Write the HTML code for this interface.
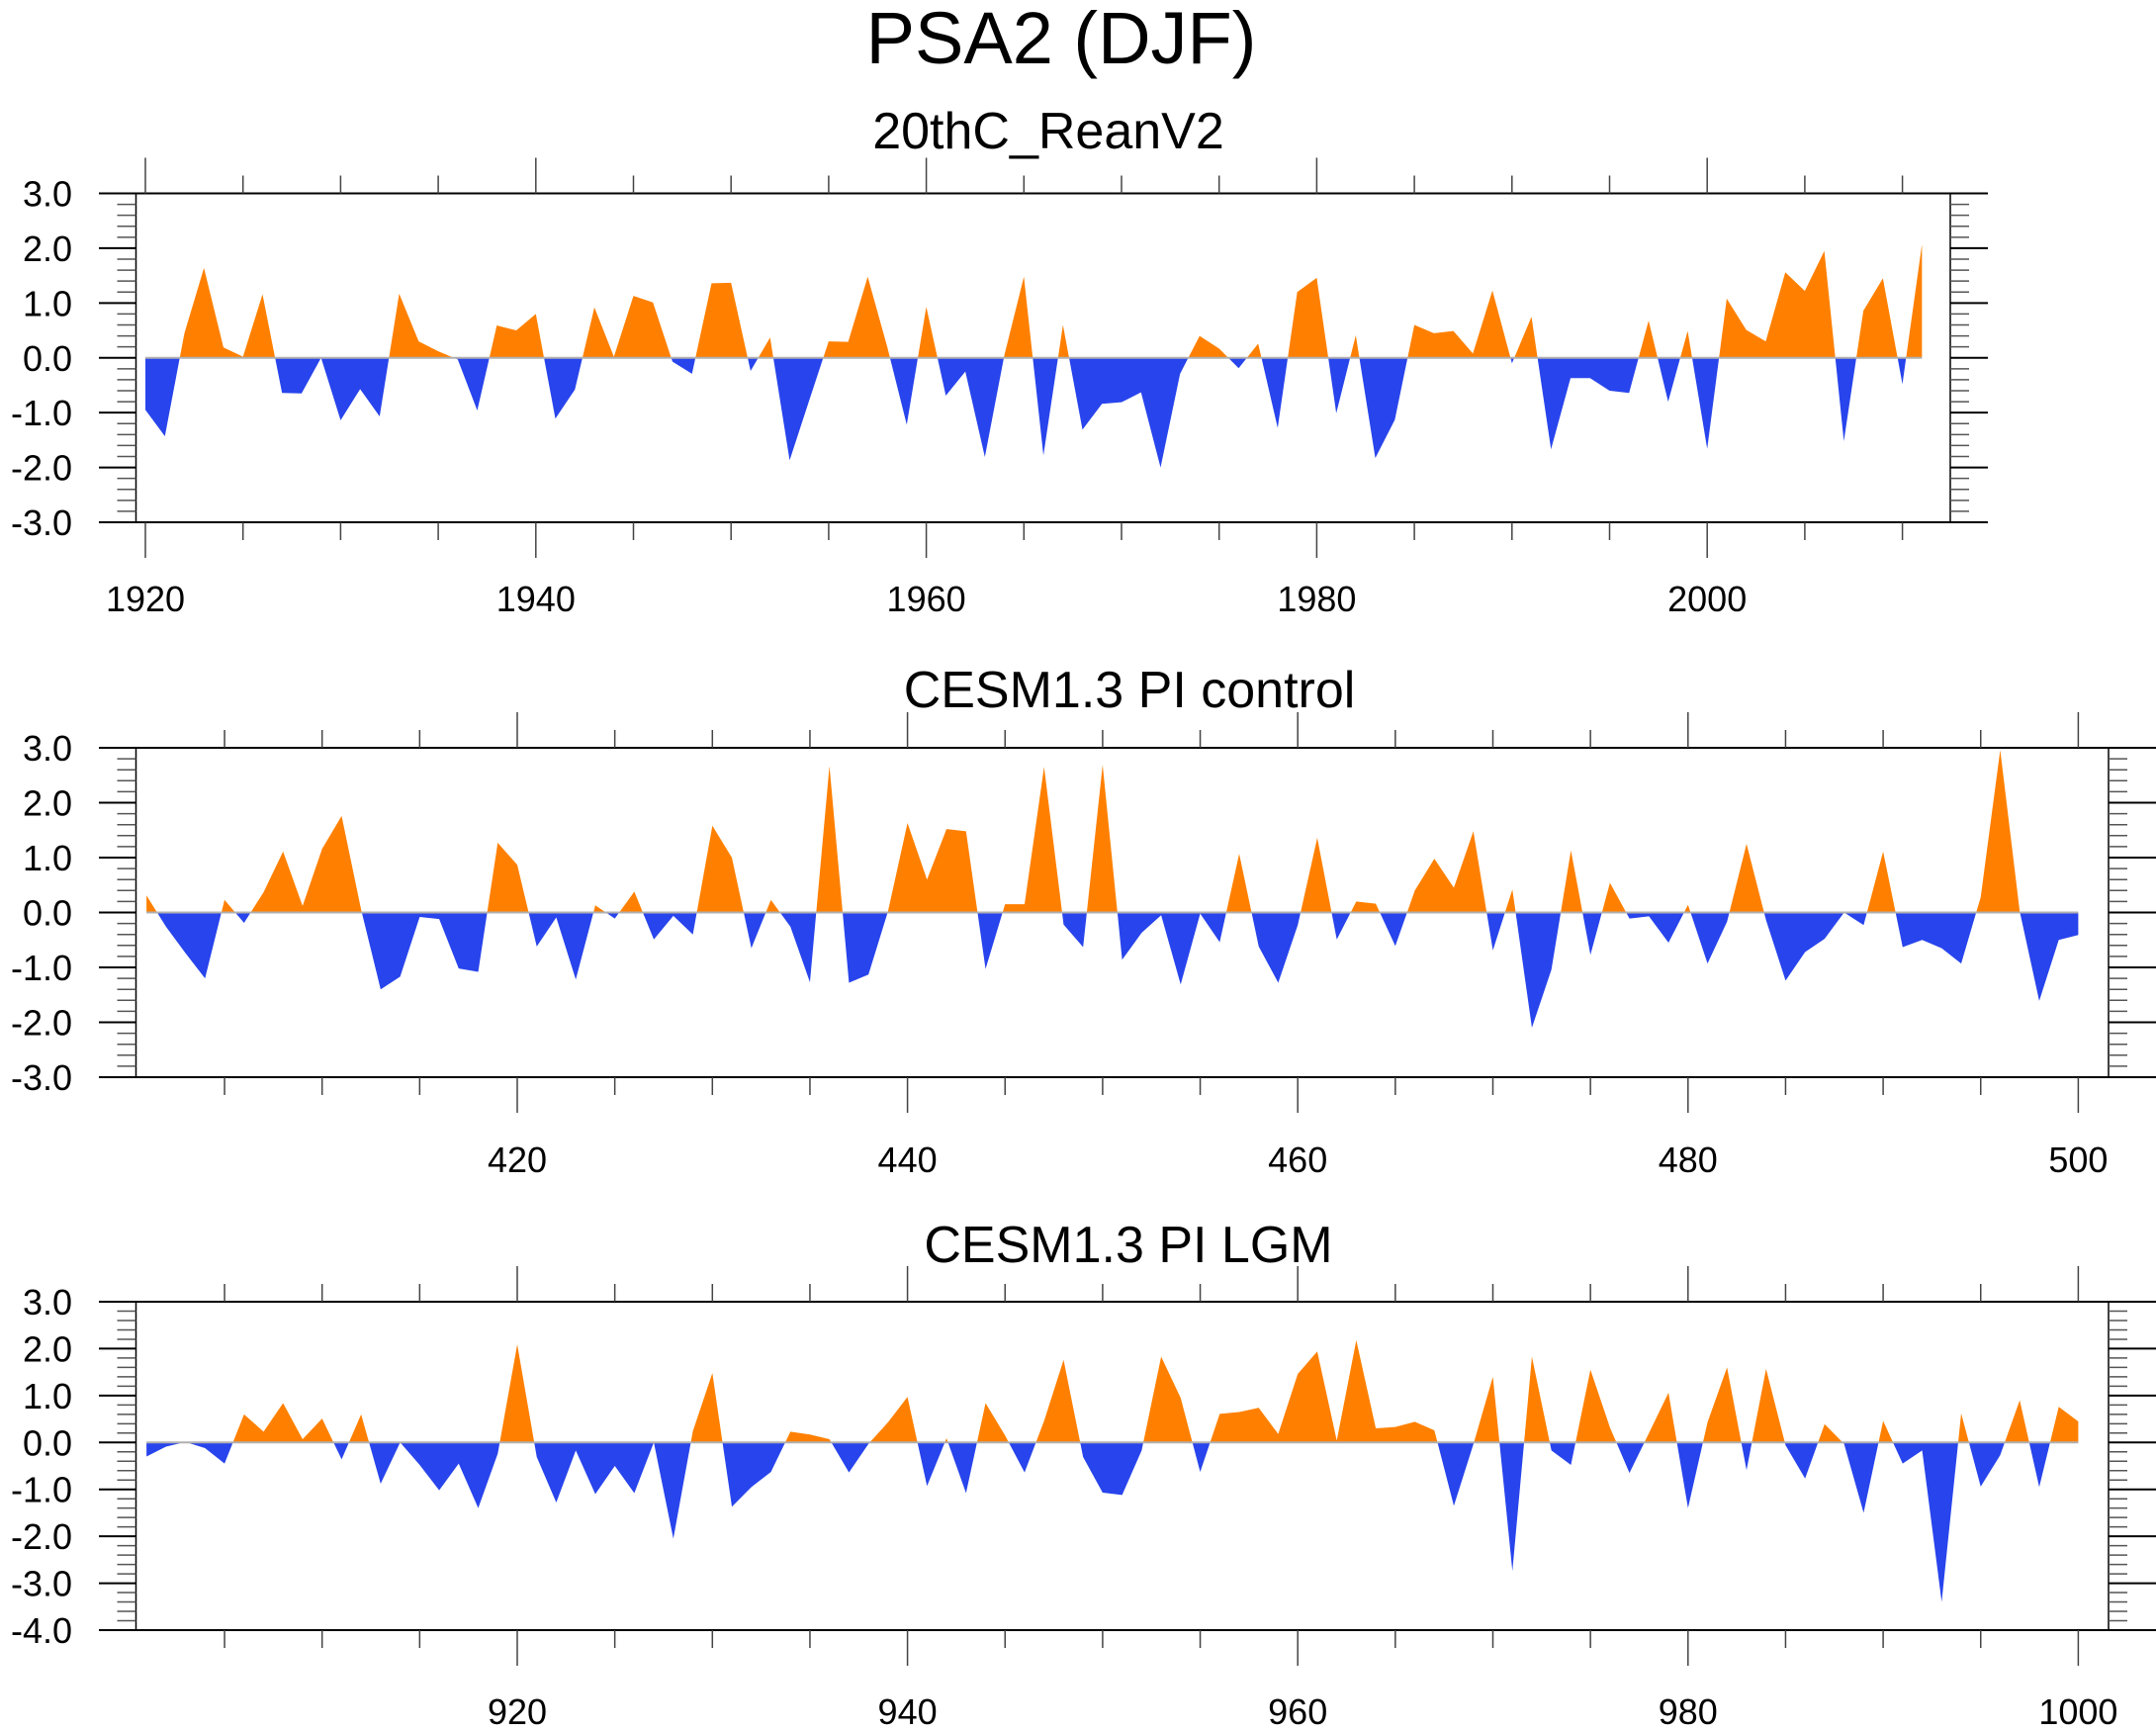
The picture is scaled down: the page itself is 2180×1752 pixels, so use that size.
<!DOCTYPE html>
<html><head><meta charset="utf-8"><style>
html,body{margin:0;padding:0;background:#fff;}
svg{display:block;font-family:"Liberation Sans",Arial,sans-serif;}
</style></head><body>
<svg id="chart" width="2180" height="1752" viewBox="0 0 2180 1752" xmlns="http://www.w3.org/2000/svg">
<text x="1073" y="64" font-size="74" text-anchor="middle">PSA2 (DJF)</text>
<g id="p1"></g>
<g id="p2"></g>
<g id="p3"></g>
</svg>
<script>
const values1 = [-0.95,-1.43,0.45,1.64,0.19,0.02,1.16,-0.64,-0.65,0.0,-1.14,-0.57,-1.07,1.17,0.30,0.12,-0.03,-0.96,0.59,0.50,0.80,-1.11,-0.58,0.92,0.02,1.13,1.01,-0.07,-0.29,1.36,1.37,-0.24,0.37,-1.87,-0.78,0.30,0.29,1.48,0.2,-1.22,0.93,-0.69,-0.25,-1.81,0.05,1.48,-1.78,0.60,-1.31,-0.84,-0.81,-0.63,-2.0,-0.29,0.40,0.17,-0.19,0.26,-1.28,1.2,1.46,-1.01,0.41,-1.83,-1.13,0.6,0.45,0.49,0.08,1.23,-0.1,0.75,-1.67,-0.37,-0.37,-0.6,-0.64,0.68,-0.8,0.49,-1.66,1.08,0.51,0.3,1.56,1.22,1.95,-1.52,0.86,1.45,-0.48,2.07];
const values2 = [0.31,-0.26,-0.74,-1.2,0.23,-0.19,0.37,1.11,0.12,1.16,1.76,0.05,-1.40,-1.17,-0.08,-0.12,-1.02,-1.08,1.27,0.87,-0.62,-0.09,-1.22,0.13,-0.11,0.38,-0.49,-0.06,-0.40,1.58,1.0,-0.65,0.23,-0.26,-1.27,2.67,-1.28,-1.13,0.02,1.63,0.6,1.52,1.48,-1.03,0.15,0.15,2.65,-0.22,-0.63,2.69,-0.86,-0.37,-0.05,-1.31,-0.02,-0.54,1.07,-0.62,-1.28,-0.23,1.36,-0.49,0.2,0.16,-0.61,0.4,0.98,0.45,1.48,-0.69,0.42,-2.1,-1.04,1.13,-0.77,0.54,-0.11,-0.07,-0.55,0.14,-0.93,-0.17,1.25,-0.14,-1.24,-0.72,-0.48,0.0,-0.23,1.11,-0.63,-0.5,-0.65,-0.93,0.28,2.96,0.02,-1.61,-0.5,-0.41];
const values3 = [-0.30,-0.09,0.01,-0.12,-0.45,0.6,0.23,0.84,0.07,0.51,-0.36,0.6,-0.88,0.0,-0.48,-1.02,-0.45,-1.40,-0.24,2.09,-0.31,-1.28,-0.17,-1.1,-0.5,-1.08,0.0,-2.05,0.24,1.48,-1.37,-0.95,-0.63,0.23,0.17,0.07,-0.64,-0.03,0.43,0.97,-0.93,0.09,-1.08,0.84,0.15,-0.64,0.46,1.76,-0.31,-1.07,-1.12,-0.17,1.83,0.95,-0.63,0.61,0.65,0.74,0.18,1.46,1.94,0.04,2.18,0.30,0.33,0.44,0.26,-1.35,-0.04,1.40,-2.74,1.83,-0.17,-0.48,1.55,0.32,-0.65,0.2,1.06,-1.40,0.43,1.6,-0.59,1.57,-0.06,-0.77,0.39,-0.03,-1.5,0.46,-0.45,-0.17,-3.4,0.62,-0.94,-0.27,0.9,-0.95,0.76,0.45];
const startYear1 = 1920, startYear2 = 401, startYear3 = 901;
const years1 = values1.map((v,i)=>startYear1+i);
const years2 = values2.map((v,i)=>startYear2+i);
const years3 = values3.map((v,i)=>startYear3+i);
const titles = ["20thC_ReanV2","CESM1.3 PI control","CESM1.3 PI LGM"];
const xTickLabels1 = [1920,1940,1960,1980,2000];
const xTickLabels2 = [420,440,460,480,500];
const xTickLabels3 = [920,940,960,980,1000];
const yTicks1 = [3,2,1,0,-1,-2,-3];
const yTicks3 = [3,2,1,0,-1,-2,-3,-4];

const NS="http://www.w3.org/2000/svg";
function mk(parent,tag,attrs){const e=document.createElementNS(NS,tag);for(const k in attrs)e.setAttribute(k,attrs[k]);parent.appendChild(e);return e;}

function panel(gid,cfg){
  const g=document.getElementById(gid);
  const {top,bottom,ymin,ymax,lineL,lineR,frameL,frameR,x0,yr0,ppy,years,vals,majors,minorStart,minorEnd,yticks,title,titleX,titleY,labelY,id}=cfg;
  const X=yr=>x0+(yr-yr0)*ppy;
  const Y=v=>top+(ymax-v)/(ymax-ymin)*(bottom-top);
  const z=Y(0);
  const t=mk(g,'text',{x:titleX,y:titleY,'font-size':52,'text-anchor':'middle'});
  t.textContent=title;
  
  
  const defs=mk(g,'defs',{});
  const ca=mk(defs,'clipPath',{id:id+'a'});mk(ca,'rect',{x:0,y:top,width:2180,height:z-top});
  const cb=mk(defs,'clipPath',{id:id+'b'});mk(cb,'rect',{x:0,y:z,width:2180,height:bottom-z});
  let pts=X(years[0])+','+z+' ';
  years.forEach((yr,i)=>{pts+=X(yr)+','+Y(vals[i])+' ';});
  pts+=X(years[years.length-1])+','+z;
  const pa=mk(g,'polygon',{points:pts,fill:'#ff8000','clip-path':'url(#'+id+'a)'});
  
  
  const pb=mk(g,'polygon',{points:pts,fill:'#2844ec','clip-path':'url(#'+id+'b)'});
  
  
  const zl=mk(g,'line',{x1:X(years[0]),x2:X(years[years.length-1]),y1:z,y2:z,stroke:'#b0b0b0','stroke-width':2});
  
  
  mk(g,'line',{x1:lineL,x2:lineR,y1:top,y2:top,stroke:'#000','stroke-width':2});
  mk(g,'line',{x1:lineL,x2:lineR,y1:bottom,y2:bottom,stroke:'#000','stroke-width':2});
  mk(g,'line',{x1:frameL,x2:frameL,y1:top,y2:bottom,stroke:'#000','stroke-width':1.5});
  mk(g,'line',{x1:frameR,x2:frameR,y1:top,y2:bottom,stroke:'#000','stroke-width':1.5});
  for(let v=ymin;v<=ymax+1e-6;v+=0.2){
    const yy=Y(v);const major=Math.abs(v-Math.round(v))<1e-6;
    if(major){
      mk(g,'line',{x1:lineL,x2:frameL,y1:yy,y2:yy,stroke:'#000','stroke-width':2});
      mk(g,'line',{x1:frameR,x2:lineR,y1:yy,y2:yy,stroke:'#000','stroke-width':2});
    } else {
      mk(g,'line',{x1:frameL-19,x2:frameL,y1:yy,y2:yy,stroke:'#555','stroke-width':1.5});
      mk(g,'line',{x1:frameR,x2:frameR+19,y1:yy,y2:yy,stroke:'#555','stroke-width':1.5});
    }
  }
  yticks.forEach(v=>{
    const tx=mk(g,'text',{x:73,y:Y(v)+13,'font-size':36,'text-anchor':'end'});
    tx.textContent=v.toFixed(1);
    
    
  });
  for(let yr=minorStart;yr<=minorEnd;yr+=5){
    const xx=X(yr);const major=majors.includes(yr);
    mk(g,'line',{x1:xx,x2:xx,y1:top-(major?36:18),y2:top,stroke:'#444','stroke-width':1.5});
    mk(g,'line',{x1:xx,x2:xx,y1:bottom,y2:bottom+(major?36:18),stroke:'#444','stroke-width':1.5});
  }
  majors.forEach(yr=>{
    const tx=mk(g,'text',{x:X(yr),y:labelY,'font-size':36,'text-anchor':'middle'});
    tx.textContent=yr;
    
    
  });
}
panel('p1',{id:'c1',top:195.5,bottom:528,ymin:-3,ymax:3,lineL:100,lineR:2010,frameL:137.5,frameR:1972,x0:147,yr0:1920,ppy:19.74,years:years1,vals:values1,majors:xTickLabels1,minorStart:1920,minorEnd:2010,yticks:yTicks1,title:titles[0],titleX:1060,titleY:150,labelY:618});
panel('p2',{id:'c2',top:756,bottom:1089,ymin:-3,ymax:3,lineL:100,lineR:2180,frameL:137.5,frameR:2132,x0:523,yr0:420,ppy:19.73,years:years2,vals:values2,majors:xTickLabels2,minorStart:405,minorEnd:500,yticks:yTicks1,title:titles[1],titleX:1142,titleY:715,labelY:1185});
panel('p3',{id:'c3',top:1316,bottom:1648,ymin:-4,ymax:3,lineL:100,lineR:2180,frameL:137.5,frameR:2132,x0:523,yr0:920,ppy:19.73,years:years3,vals:values3,majors:xTickLabels3,minorStart:905,minorEnd:1000,yticks:yTicks3,title:titles[2],titleX:1141,titleY:1276,labelY:1743});
</script>
</body></html>
